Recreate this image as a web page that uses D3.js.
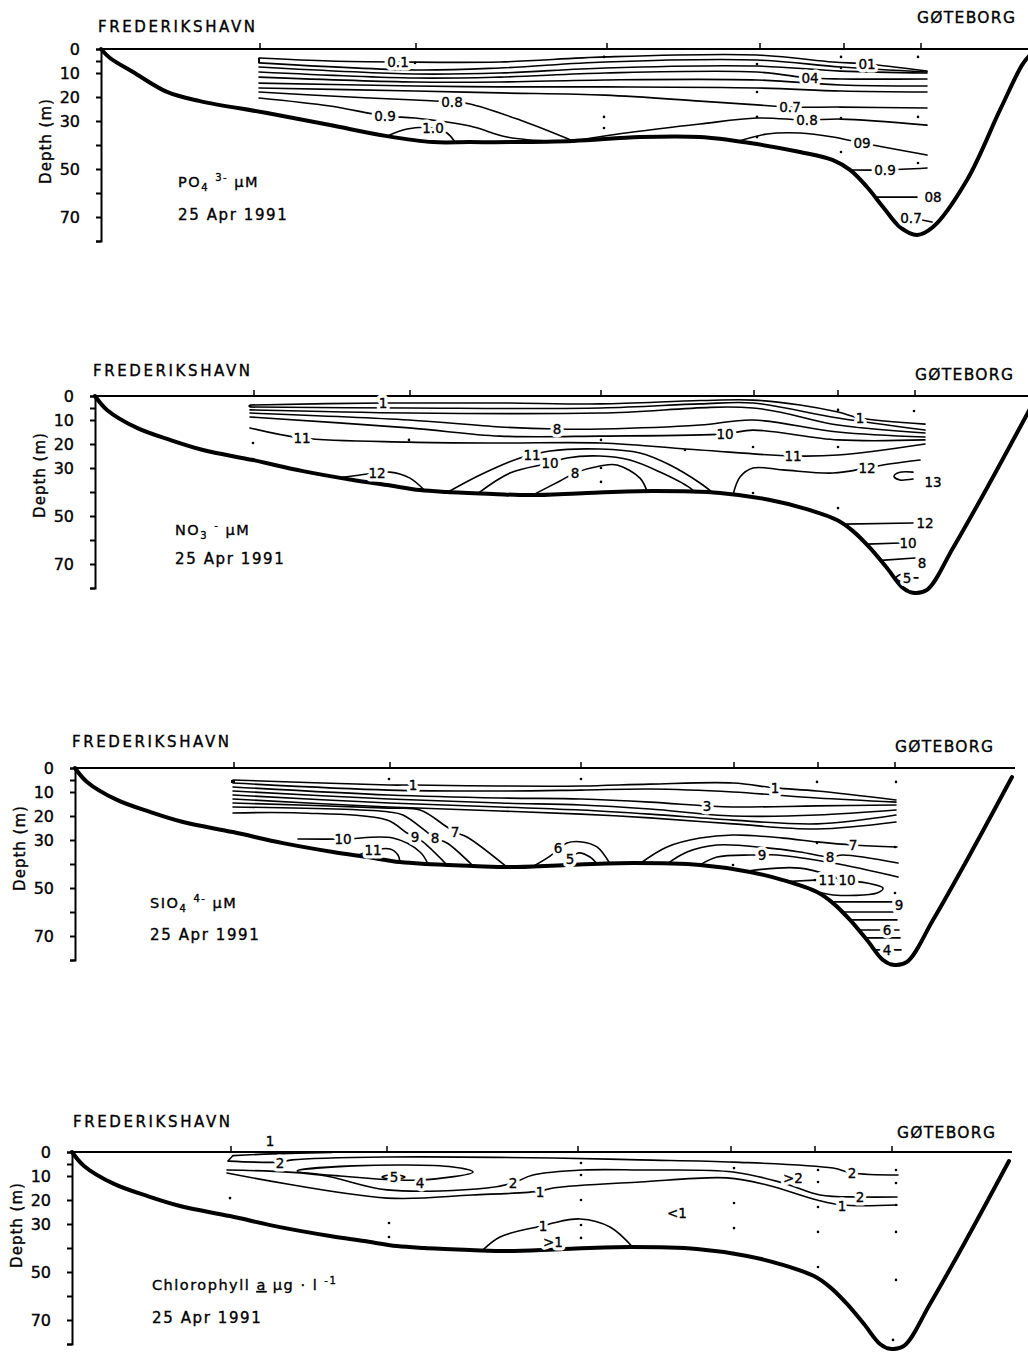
<!DOCTYPE html>
<html>
<head>
<meta charset="utf-8">
<script src="https://cdn.jsdelivr.net/npm/d3@7"></script>
<style>
  body { margin: 0; background: #fff; }
  svg { display: block; }
  text { font-family: "DejaVu Sans", sans-serif; fill: #000; }
  .ink { stroke: #000; stroke-width: 0.35px; }
</style>
</head>
<body>
<div id="figure"></div>
<script>
// transect Frederikshavn -> Goteborg, x = km along section, y = depth (m)
const stationKm = [15.9, 31.5, 50.6, 65.9, 74.3, 82.0]
const surfaceKm = [0, 94]
const depthTicks = [0, 5, 10, 20, 30, 40, 50, 60, 70, 80]
const depthTickLabels = [0, 10, 20, 30, 50, 70]

// bottom profiles [km, depth]
const bottomPO4 = [[0,0],[0.9,3.75],[3.2,9.6],[6.6,17.9],[9.9,21.7],[16.6,26.7],[22.9,31.7],[28.6,36.3],[33.2,38.8],[36.9,38.8],[40.9,38.8],[47.2,38.3],[53.9,36.7],[59.9,36.7],[64.9,39.2],[69.9,42.9],[73.2,46.3],[74.9,50.4],[76.6,57.5],[78.2,65.8],[79.9,74.2],[81.6,77.5],[83.2,74.2],[86.6,54.6],[89.9,25.4],[92.1,6.7],[92.8,3]]
const bottomProfile = [[0,0],[1.2,5.8],[4.2,13.3],[7.5,18.3],[10.8,22.5],[15.8,26.7],[20.8,31.3],[25.8,35],[29.2,37.1],[32.5,39.2],[35.2,40],[39.8,40.8],[43.5,41.3],[49.2,40.4],[55.8,39.6],[62.5,40.4],[67.5,43.3],[70.8,46.7],[74.2,51.7],[75.8,56.3],[77.5,63.3],[79.2,71.7],[80.8,80],[81.8,82],[83.2,80.8],[85.8,63.3],[89.2,38.3],[93.7,3.75]]

// PO4 contours
const po4Lines = [
  [[15.8,3.75],[22.9,5],[29.7,5.4],[39.9,5.4],[50.4,3.3],[65.6,2.5],[73.2,5.4],[76.6,6.25],[82.6,9.2]],
  [[15.8,5.8],[31.4,8.75],[39.9,7.9],[50.4,5.4],[65.6,4.6],[74,7.5],[82.6,9.6]],
  [[15.8,7.5],[31.4,10.4],[39.9,10],[50.4,7.9],[65.6,7.1],[74,9.2],[82.6,10]],
  [[15.8,9.6],[31.4,12.1],[39.9,11.7],[50.4,10],[65.6,9.6],[70.9,12.1],[74,12.5],[82.6,12.5]],
  [[15.8,11.7],[31.4,13.75],[39.9,13.75],[50.4,12.9],[65.6,12.9],[74,15],[82.6,15.4]],
  [[15.8,14.2],[31.4,15.4],[39.9,15.8],[50.4,15.8],[65.6,16.25],[74,17.5],[82.6,17.9]],
  [[15.8,16.25],[31.4,17.5],[39.9,18.3],[50.4,19.2],[59.9,21.7],[65.6,23.3],[68.9,24.2],[74,24.2],[82.6,24.6]],
  [[15.8,17.9],[22.9,19.6],[31.4,21.25],[35.1,22.1],[36.9,22.9],[41.9,29.6],[47.2,38.3]],
  [[15.8,20.4],[22.9,23.75],[28.4,27.9],[31.4,28.75],[36.9,32.1],[40.6,36.7],[45.4,38.5]],
  [[28.6,36.3],[30.6,33.3],[33.2,32.9],[34.6,35],[35.4,38.8]],
  [[47.2,38.3],[53.2,34.6],[59.9,31.25],[65.6,28.75],[70.6,29.6],[74,29.2],[82.6,31.7]],
  [[63.6,38.6],[66.6,35.4],[69.9,35],[73.2,36.7],[76.1,39.2],[82.6,44.2]],
  [[75,50.4],[78.4,50.4],[82.6,49.6]],
  [[77.6,61.7],[81.6,61.7]],
  [[82.1,71.25],[83.1,72.1]]
]
const po4Labels = [[29.7,5.4,'0.1'],[76.6,6.25,'01'],[70.9,12.1,'04'],[68.9,24.2,'0.7'],[35.1,22.1,'0.8'],[28.4,27.9,'0.9'],[33.2,32.9,'1.0'],[70.6,29.6,'0.8'],[76.1,39.2,'09'],[78.4,50.4,'0.9'],[83.2,61.7,'08'],[81,70.4,'0.7']]
const po4Samples = [[31.4,5.8],[50.3,3.3],[50.3,28.3],[50.3,32.9],[65.6,6.25],[65.6,17.9],[65.6,28.3],[65.6,36.7],[74,3.3],[74,7.9],[74,28.75],[74,42.9],[81.7,3.3],[81.7,28.3],[81.7,47.5]]

// NO3 contours
const no3Lines = [
  [[15.5,3.75],[28.8,2.9],[40.5,2.9],[50.6,3.3],[60.5,1.9],[65.8,1.7],[70.5,3.75],[74.3,6.7],[76.5,9.2],[83,11.7]],
  [[15.5,4.6],[31.4,5],[50.6,5],[60.5,3.3],[65.8,2.9],[74.3,9.2],[83,14.2]],
  [[15.5,5.8],[31.4,7.1],[50.6,7.1],[65.8,5],[74.3,12.1],[83,15.4]],
  [[15.5,7.1],[31.4,10],[40.5,12.9],[46.2,13.75],[50.6,13.75],[60.5,12.1],[65.8,10],[74.3,15],[83,17.1]],
  [[15.5,8.75],[31.4,13.3],[40.5,16.7],[50.6,16.7],[63,15.8],[65.8,14.2],[74.3,18.3],[83,18.3]],
  [[15.5,13.3],[20.7,17.5],[31.4,19.2],[40.5,19.6],[50.6,19.6],[60.5,22.5],[69.8,25],[74.3,24.6],[83,20]],
  [[35.3,40],[38.5,32.9],[42.5,25.8],[43.7,24.6],[45.5,22.9],[50.5,22.1],[54.5,23.75],[57.5,28.75],[60.5,36.25],[61.8,40.4]],
  [[38.3,40.6],[41.5,32.1],[45.5,27.9],[47.2,25.8],[50.5,25],[53.5,26.7],[56.5,31.7],[59.5,38.3],[60,40.2]],
  [[43.8,41.2],[46.5,35.4],[48,32.1],[50.5,29.2],[52.2,28.75],[54.5,34.2],[55.2,39.7]],
  [[24.5,34],[28.2,32.1],[29.5,31.7],[31.5,34.2],[33,39.5]],
  [[63.8,41.2],[64.5,33.75],[65.8,30],[68.8,30.8],[73.8,32.1],[77.2,30],[78.8,28.75],[82.5,26.7]],
  [[81.8,31.7],[80.4,31.9],[79.9,33.5],[80.5,35],[81.8,34.6]],
  [[74.8,53.4],[81.8,52.9]],
  [[77.2,61.7],[80.5,61.25]],
  [[78.6,68.5],[82,67.5]],
  [[81.7,75.8],[82.3,75.8]]
]
const no3Loops = [[[80.1,75.8],[80.6,74.4],[81,75.8],[80.6,77.2]]]
const no3Labels = [[28.8,2.9,'1'],[76.5,9.2,'1'],[46.2,13.75,'8'],[63,15.8,'10'],[20.7,17.5,'11'],[69.8,25,'11'],[43.7,24.6,'11'],[45.5,27.9,'10'],[48,32.1,'8'],[28.2,32.1,'12'],[77.2,30,'12'],[83.8,35.8,'13'],[83,52.9,'12'],[81.3,61.25,'10'],[82.7,69.6,'8'],[81.2,75.8,'5']]
const no3Samples = [[15.8,19.6],[31.4,18.3],[50.6,18.3],[50.6,30],[50.6,35.8],[65.8,21.25],[65.8,40.4],[74.3,5.8],[74.3,21.25],[74.3,46.7],[81.9,6.25],[59,22.5]]

// SiO4 contours
const sio4Lines = [
  [[15.8,5],[31.4,7.1],[33.8,7.1],[42.5,7.5],[50.6,7.5],[57.5,6.7],[65.8,6.25],[70,8.3],[74.2,9.6],[82.1,13.3]],
  [[15.8,6.25],[31.4,9.2],[42.5,9.6],[50.6,9.2],[57.5,8.75],[65.8,10],[74.2,12.5],[82.1,14.2]],
  [[15.8,7.9],[31.4,11.25],[42.5,12.5],[50.6,12.9],[57.5,14.2],[63.2,15.8],[65.8,16.25],[74.2,15.8],[82.1,15.4]],
  [[15.8,9.6],[31.4,12.9],[42.5,14.6],[50.6,15.4],[57.5,17.1],[65.8,20],[74.2,19.6],[82.1,17.5]],
  [[15.8,11.25],[31.4,14.6],[42.5,16.25],[50.6,17.5],[57.5,19.2],[65.8,21.7],[74.2,23.3],[82.1,19.6]],
  [[15.8,12.9],[31.4,16.25],[42.5,17.9],[50.6,19.2],[57.5,20.8],[65.8,23.3],[74.2,25.4],[82.1,22.5]],
  [[15.8,14.6],[31.4,16.7],[34.5,17.5],[37.2,24.6],[38,26.7],[39.2,28.75],[43.2,41.3]],
  [[15.8,16.25],[31.4,18.3],[32.8,19.6],[35.2,26.7],[36,29.2],[37.2,31.25],[39.8,40.8]],
  [[15.8,18.75],[22.5,18.75],[31.2,21.7],[33.2,27.1],[34,28.75],[34.8,30.8],[37.2,40.4]],
  [[22.3,29.6],[26.8,29.6],[31.8,29.2],[34.5,35],[35.3,40]],
  [[28.2,36.6],[29.8,34.2],[31.5,33.75],[32.3,36.25],[32.5,39.2]],
  [[45.8,41],[47.5,36.7],[49.2,31.25],[50.7,30.8],[52.2,32.9],[53.5,39.9]],
  [[48.5,41],[49.5,37.9],[50.3,35.4],[51.5,37.1],[52.2,40]],
  [[56.5,39.8],[59.2,32.9],[62.5,29.2],[65.8,27.9],[70.8,29.2],[74.2,30.8],[77.8,32.1],[82.2,32.9]],
  [[59.2,40],[61.2,35],[64.2,32.1],[69.2,33.3],[72.5,35],[75.5,37.1],[76.8,36.25],[82.3,39.6]],
  [[62.5,40.4],[64.2,37.1],[67.5,36.25],[68.7,36.25],[70.2,36.25],[75.8,39.6],[82.3,45.4]],
  [[67.3,42.9],[72.5,41.7],[77.2,46.7],[79.2,47.9],[80.8,50],[80.2,52.1],[75.8,52.9],[74.5,51.9]],
  [[71.2,47.3],[74,46.7]],
  [[76,45.8],[76.6,46.7],[76,47.9]],
  [[75.6,55.8],[81.8,55.8]],
  [[76.9,60],[81.8,60]],
  [[77.5,63.3],[82.2,63.3]],
  [[78.3,67.5],[82.4,67.5]],
  [[79,70.8],[82.5,70.8]],
  [[80,75.8],[82.6,75.8]]
]
const sio4Labels = [[33.8,7.1,'1'],[70,8.3,'1'],[63.2,15.8,'3'],[26.8,29.6,'10'],[29.8,34.2,'11'],[34,28.75,'9'],[36,29.2,'8'],[38,26.7,'7'],[48.3,33.3,'6'],[49.5,37.9,'5'],[77.8,32.1,'7'],[75.5,37.1,'8'],[68.7,36.25,'9'],[77.2,46.7,'10'],[75.2,46.7,'11'],[82.4,57.1,'9'],[81.2,67.5,'6'],[81.2,75.8,'4']]
const sio4Samples = [[31.4,4.6],[50.6,4.6],[65.8,40.4],[74.2,5.8],[74.2,31.25],[74,46.7],[82.1,5.8],[82,32.9],[82,52.1]]

// chlorophyll a contours
const chlLines = [
  [[16.1,1.5],[20,0.8],[26,0.2]],
  [[15.6,3.8],[20.8,4.2],[22,3.3],[31.5,2.1],[48.1,2.5],[56.8,3.3],[66.2,4.2],[76.1,6.7],[78,8.75],[82.6,9.6]],
  [[15.5,7.5],[24.8,9.6],[31.5,15.8],[41.5,15],[44.1,12.9],[46.1,9.6],[51.1,7.5],[56.8,7.5],[66.1,8.3],[71.1,12.9],[74.8,17.9],[78.8,18.75],[82.5,18.75]],
  [[15.5,8.75],[31.5,19.2],[40,17.9],[46.8,16.3],[48.1,15],[56.8,12.5],[65.5,10.8],[69.5,13.75],[74.5,20],[77,22.1],[82.5,22.1]],
  [[41.1,40.8],[42.8,35.4],[46.5,31.25],[47.1,30.8],[48.1,29.6],[50.8,27.9],[53.8,31.25],[56.1,39.8]]
]
const chlLoops = [
  [[22.5,7.9],[28.1,5.8],[38.1,6.25],[40.1,8.3],[34.8,11.7],[26.8,10]],
  [[31,10.4],[32.1,9.4],[33.3,10.4],[32.1,11.4]]
]
const chlLabels = [[19.8,-4.6,'1'],[20.8,4.6,'2'],[78,8.75,'2'],[44.1,12.9,'2'],[78.8,18.75,'2'],[46.8,16.7,'1'],[77,22.5,'1'],[34.8,12.9,'4'],[32.2,10.4,'5'],[47.1,30.8,'1'],[48.1,37.5,'>1'],[60.5,25.4,'<1'],[72.1,10.8,'>2']]
const chlSamples = [[15.8,19.2],[31.7,29.6],[31.7,35.4],[50.9,4.6],[50.9,9.6],[50.9,20],[50.9,30.4],[50.9,35.8],[66.2,6.7],[66.2,21.25],[66.2,31.7],[66.2,42.1],[74.6,7.5],[74.6,12.5],[74.6,22.9],[74.6,33.3],[74.6,47.9],[82.4,7.5],[82.4,12.9],[82.4,22.1],[82.4,33.3],[82.4,53.3],[82.1,78.3]]

// panel layout
const panels = [
  { lines: po4Lines, loops: [], labels: po4Labels, samples: po4Samples, bottom: bottomPO4,
    x0: 101, y0: 49, freX: 98, freY: 32, gotX: 917, gotY: 23, depthOff: 92, noteX: 178, noteY: 187, dateY: 220,
    wedge: 2, note: [['PO'], ['4', 'sub'], [' '], ['3-', 'sup'], [' µM']] },
  { lines: no3Lines, loops: no3Loops, labels: no3Labels, samples: no3Samples, bottom: bottomProfile,
    x0: 95, y0: 396, freX: 93, freY: 376, gotX: 915, gotY: 380, depthOff: 79, noteX: 175, noteY: 535, dateY: 564,
    wedge: 3, note: [['NO'], ['3', 'sub'], [' '], ['-', 'sup'], [' µM']] },
  { lines: sio4Lines, loops: [], labels: sio4Labels, samples: sio4Samples, bottom: bottomProfile,
    x0: 75, y0: 768, freX: 72, freY: 747, gotX: 895, gotY: 752, depthOff: 80, noteX: 150, noteY: 908, dateY: 940,
    wedge: 4, note: [['SIO'], ['4', 'sub'], [' '], ['4-', 'sup'], [' µM']] },
  { lines: chlLines, loops: chlLoops, labels: chlLabels, samples: chlSamples, bottom: bottomProfile,
    x0: 72, y0: 1152, freX: 73, freY: 1127, gotX: 897, gotY: 1138, depthOff: 73, noteX: 152, noteY: 1290, dateY: 1323,
    wedge: 1.5, note: [['Chlorophyll '], ['a', 'u'], [' µg · l '], ['-1', 'sup']] }
]

const svg = d3.select('#figure').append('svg')
  .attr('width', 1028).attr('height', 1353)
  .attr('viewBox', '0 0 1028 1353')

svg.append('rect').attr('width', 1028).attr('height', 1353).attr('fill', '#fff')

panels.forEach(drawPanel)

function drawPanel(p) {
  const xScale = d3.scaleLinear().domain([0, 100]).range([p.x0, p.x0 + 1000])
  const yScale = d3.scaleLinear().domain([0, 80]).range([p.y0, p.y0 + 192])
  const g = svg.append('g')

  const smooth = d3.line().x(d => xScale(d[0])).y(d => yScale(d[1])).curve(d3.curveCatmullRom.alpha(0.5))
  const closed = d3.line().x(d => xScale(d[0])).y(d => yScale(d[1])).curve(d3.curveCatmullRomClosed.alpha(0.5))
  const straight = d3.line().x(d => xScale(d[0])).y(d => yScale(d[1]))

  // sea surface
  g.append('path')
    .attr('d', straight(surfaceKm.map(k => [k, 0])))
    .attr('fill', 'none').attr('stroke', '#000').attr('stroke-width', 2)

  // station marks
  g.selectAll('.station').data(stationKm).join('line')
    .attr('x1', d => xScale(d)).attr('x2', d => xScale(d))
    .attr('y1', yScale(0)).attr('y2', yScale(0) - 6)
    .attr('stroke', '#000').attr('stroke-width', 1.5)

  // contours
  g.selectAll('.contour').data(p.lines).join('path')
    .attr('d', smooth)
    .attr('fill', 'none').attr('stroke', '#000').attr('stroke-width', 1.6)
    .attr('stroke-linecap', 'round')

  g.selectAll('.loop').data(p.loops).join('path')
    .attr('d', closed)
    .attr('fill', 'none').attr('stroke', '#000').attr('stroke-width', 1.6)

  // closing stroke at the left end of the upper lines
  g.append('path')
    .attr('d', straight([p.lines[0][0], p.lines[1][0]]))
    .attr('stroke', '#000').attr('stroke-width', p.wedge)

  // bottom
  g.append('path')
    .attr('d', smooth(p.bottom))
    .attr('fill', 'none').attr('stroke', '#000').attr('stroke-width', 4)
    .attr('stroke-linecap', 'round').attr('stroke-linejoin', 'round')

  // sample points
  g.selectAll('.sample').data(p.samples).join('circle')
    .attr('cx', d => xScale(d[0])).attr('cy', d => yScale(d[1]))
    .attr('r', 1.3).attr('fill', '#000')

  // contour labels: white knock-out first, then the figure
  g.selectAll('.halo').data(p.labels).join('text')
    .attr('x', d => xScale(d[0])).attr('y', d => yScale(d[1]))
    .attr('text-anchor', 'middle').attr('dominant-baseline', 'central')
    .attr('font-size', 13.5)
    .attr('fill', '#fff').attr('stroke', '#fff').attr('stroke-width', 7)
    .attr('stroke-linejoin', 'round')
    .text(d => d[2])
  g.selectAll('.clabel').data(p.labels).join('text')
    .attr('class', 'ink')
    .attr('x', d => xScale(d[0])).attr('y', d => yScale(d[1]))
    .attr('text-anchor', 'middle').attr('dominant-baseline', 'central')
    .attr('font-size', 13.5)
    .text(d => d[2])

  // depth axis
  const yAxis = d3.axisLeft(yScale)
    .tickValues(depthTicks)
    .tickSize(5).tickSizeOuter(5).tickPadding(16)
    .tickFormat(d => depthTickLabels.includes(d) ? d : '')
  const axisG = g.append('g')
    .attr('transform', `translate(${xScale(0)},0)`)
    .call(yAxis)
  axisG.select('.domain').attr('stroke-width', 2)
  axisG.selectAll('.tick line').attr('stroke-width', 2)
  axisG.selectAll('.tick text')
    .attr('class', 'ink')
    .attr('font-size', 16).attr('font-family', '"DejaVu Sans", sans-serif')

  g.append('text')
    .attr('class', 'ink')
    .attr('transform', `translate(${xScale(0) - 50},${p.y0 + p.depthOff}) rotate(-90)`)
    .attr('text-anchor', 'middle').attr('font-size', 15).attr('letter-spacing', 1)
    .text('Depth (m)')

  // place names
  g.append('text').attr('class', 'ink').attr('x', p.freX).attr('y', p.freY)
    .attr('font-size', 15).attr('letter-spacing', 2.6)
    .text('FREDERIKSHAVN')
  g.append('text').attr('class', 'ink').attr('x', p.gotX).attr('y', p.gotY)
    .attr('font-size', 15.5).attr('letter-spacing', 1.3)
    .text('GØTEBORG')

  // parameter note
  const note = g.append('text').attr('class', 'ink').attr('x', p.noteX).attr('y', p.noteY)
    .attr('font-size', 14.5).attr('letter-spacing', 1.5)
  let shift = 0
  p.note.forEach(([t, kind]) => {
    const target = kind === 'sub' ? 4 : kind === 'sup' ? -6 : 0
    const ts = note.append('tspan').attr('dy', target - shift).text(t)
    if (kind === 'sub' || kind === 'sup') ts.attr('font-size', 10)
    if (kind === 'u') ts.attr('text-decoration', 'underline')
    shift = target
  })
  g.append('text').attr('class', 'ink').attr('x', p.noteX).attr('y', p.dateY)
    .attr('font-size', 15).attr('letter-spacing', 1.6)
    .text('25 Apr 1991')
}
</script>
</body>
</html>
